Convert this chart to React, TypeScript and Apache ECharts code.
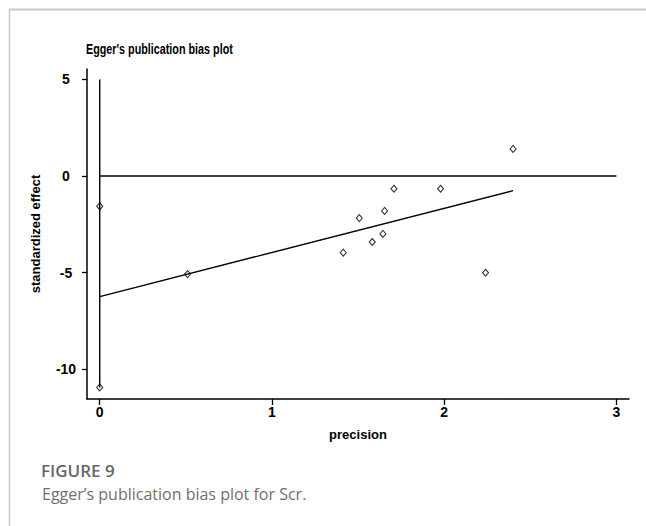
import React, { useEffect, useRef } from "react";
import * as echarts from "echarts";

const precisionX = [0, 0, 0.51, 1.414, 1.507, 1.582, 1.644, 1.654, 1.708, 1.979, 2.24, 2.40];
const effectY = [-1.57, -10.95, -5.08, -3.97, -2.18, -3.42, -3.0, -1.81, -0.66, -0.66, -5.01, 1.40];
const fitX = [0, 2.40];
const fitY = [-6.25, -0.76];
const refVX = [0, 0];
const refVY = [5, -10.95];
const refHX = [0, 3];
const refHY = [0, 0];
const xTicks = [0, 1, 2, 3];
const yTicks = [-10, -5, 0, 5];

const pairs = (xs: number[], ys: number[]) => xs.map((x, i) => [x, ys[i]]);

export default function App() {
  const ref = useRef<HTMLDivElement>(null);
  useEffect(() => {
    if (!ref.current) return;
    const chart = echarts.init(ref.current, null, { renderer: "svg" });
    const tickFont = {
      fontFamily: "'Liberation Sans', Arial, sans-serif",
      fontWeight: "bold" as const,
      fontSize: 14,
      color: "#000",
    };
    const nameFont = {
      fontFamily: "'Liberation Sans', Arial, sans-serif",
      fontWeight: "bold" as const,
      fontSize: 13,
      color: "#000",
    };
    const lineStyle = { color: "#000", width: 1.4 };
    chart.setOption({
      animation: false,
      backgroundColor: "#fff",
      grid: { left: 87, right: 17, top: 69, bottom: 127 },
      xAxis: {
        type: "value",
        min: -0.074,
        max: 3.073,
        name: "precision",
        nameLocation: "middle",
        nameGap: 29,
        nameTextStyle: nameFont,
        axisLine: { show: true, onZero: false, lineStyle: { color: "#000", width: 1.5 } },
        axisTick: { show: true, length: 6, customValues: xTicks, lineStyle: { color: "#000", width: 1.3 } },
        axisLabel: { customValues: xTicks, margin: 6, ...tickFont },
        splitLine: { show: false },
      },
      yAxis: {
        type: "value",
        min: -11.55,
        max: 5.54,
        name: "standardized effect",
        nameLocation: "middle",
        nameGap: 45,
        nameRotate: 90,
        nameTextStyle: nameFont,
        axisLine: { show: true, onZero: false, lineStyle: { color: "#000", width: 1.5 } },
        axisTick: { show: true, length: 5, customValues: yTicks, lineStyle: { color: "#000", width: 1.3 } },
        axisLabel: { customValues: yTicks, margin: 21, align: "center", ...tickFont },
        splitLine: { show: false },
      },
      series: [
        { type: "line", data: pairs(refVX, refVY), symbol: "none", lineStyle, silent: true },
        { type: "line", data: pairs(refHX, refHY), symbol: "none", lineStyle, silent: true },
        { type: "line", data: pairs(fitX, fitY), symbol: "none", lineStyle, silent: true },
        {
          type: "scatter",
          data: pairs(precisionX, effectY),
          symbol: "diamond",
          symbolSize: [6, 7],
          itemStyle: { color: "#fff", borderColor: "#000", borderWidth: 1.1 },
        },
      ],
      graphic: [
        { type: "line", shape: { x1: 9, y1: 9.5, x2: 646, y2: 9.5 }, style: { stroke: "#c8c8c8", lineWidth: 2 } },
        { type: "line", shape: { x1: 9.5, y1: 9, x2: 9.5, y2: 526 }, style: { stroke: "#c8c8c8", lineWidth: 1.5 } },
        {
          type: "text",
          x: 86,
          y: 50,
          scaleX: 0.77,
          style: {
            text: "Egger's publication bias plot",
            x: 0,
            y: 0,
            verticalAlign: "middle",
            font: "bold 14px 'Liberation Sans', Arial, sans-serif",
            fill: "#000",
          },
        },
        {
          type: "text",
          left: 41,
          top: 462,
          style: {
            text: "FIGURE 9",
            font: "600 17px 'Open Sans', 'Noto Sans', sans-serif",
            fill: "#666",
          },
        },
        {
          type: "text",
          left: 42,
          top: 486,
          style: {
            text: "Egger\u2019s publication bias plot for Scr.",
            font: "16px 'Open Sans', 'Noto Sans', sans-serif",
            fill: "#6f6f6f",
          },
        },
      ],
    });
    return () => chart.dispose();
  }, []);
  return (
    <div
      ref={ref}
      style={{ position: "fixed", left: 0, top: 0, width: 646, height: 526 }}
    />
  );
}
